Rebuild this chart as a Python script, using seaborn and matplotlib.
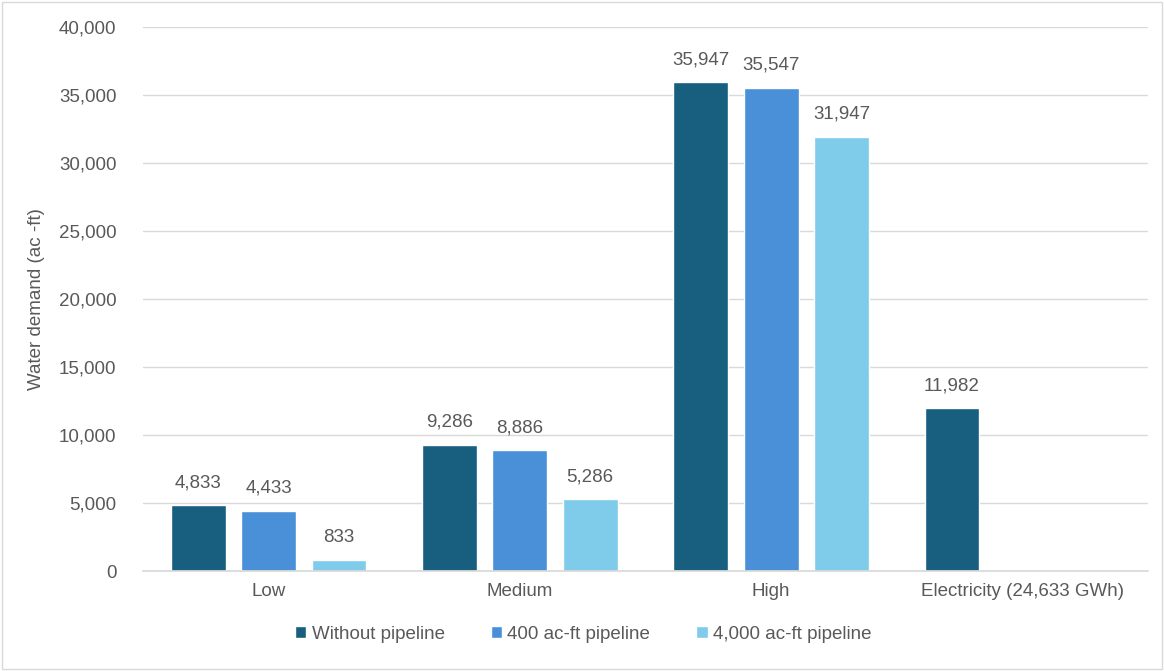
import numpy as np
import pandas as pd
import matplotlib
matplotlib.use("Agg")
import matplotlib.pyplot as plt
import seaborn as sns
from matplotlib.patches import Rectangle
from matplotlib.ticker import FuncFormatter

sns.set_theme(style="white")
plt.rcParams["font.family"] = ["Liberation Sans", "DejaVu Sans"]

# data
categories = ["Low", "Medium", "High", "Electricity (24,633 GWh)"]
without_pipeline = [4833, 9286, 35947, 11982]
pipeline_400 = [4433, 8886, 35547, np.nan]
pipeline_4000 = [833, 5286, 31947, np.nan]
series_names = ["Without pipeline", "400 ac-ft pipeline", "4,000 ac-ft pipeline"]
colors = ["#175E7F", "#4A90D9", "#7ECBEA"]

df = pd.DataFrame({
    "Scenario": categories * 3,
    "Series": np.repeat(series_names, len(categories)),
    "Demand": without_pipeline + pipeline_400 + pipeline_4000,
})

text_color = "#595959"
fs = 13.5
fig = plt.figure(figsize=(11.64, 6.71), dpi=100)
ax = fig.add_axes([143 / 1164, 100 / 671, 1005 / 1164, 544 / 671])

sns.barplot(data=df, x="Scenario", y="Demand", hue="Series", palette=colors,
            saturation=1, width=0.84, gap=0.22, ax=ax, legend=True)

ax.set_ylim(0, 40000)
ax.set_yticks(range(0, 40001, 5000))
ax.yaxis.set_major_formatter(FuncFormatter(lambda v, p: f"{int(v):,}"))
ax.grid(axis="y", color="#D9D9D9", linewidth=1)
ax.set_axisbelow(True)
for s in ["top", "right", "left"]:
    ax.spines[s].set_visible(False)
ax.spines["bottom"].set_color("#D9D9D9")
ax.tick_params(axis="both", length=0, labelsize=fs, colors=text_color)
ax.tick_params(axis="y", pad=19)
ax.tick_params(axis="x", pad=9)
ax.set_xlabel("")
ax.set_ylabel("Water demand (ac -ft)", fontsize=fs, color=text_color, labelpad=10)

for cont in ax.containers:
    labels = ["" if np.isnan(v) else f"{int(v):,}" for v in cont.datavalues]
    ax.bar_label(cont, labels=labels, padding=10, fontsize=fs, color=text_color)

handles, labs = ax.get_legend_handles_labels()
ax.legend(handles, labs, loc="upper center", bbox_to_anchor=(0.438, -0.07), ncol=3,
          frameon=False, fontsize=fs, labelcolor=text_color, handlelength=0.6,
          handleheight=0.6, handletextpad=0.3, columnspacing=2.45)

fig.patches.append(Rectangle((2 / 1164, 2 / 671), 1 - 4 / 1164, 1 - 4 / 671,
                             transform=fig.transFigure, fill=False,
                             edgecolor="#D9D9D9", linewidth=1))

fig.savefig("out.png", dpi=100)
